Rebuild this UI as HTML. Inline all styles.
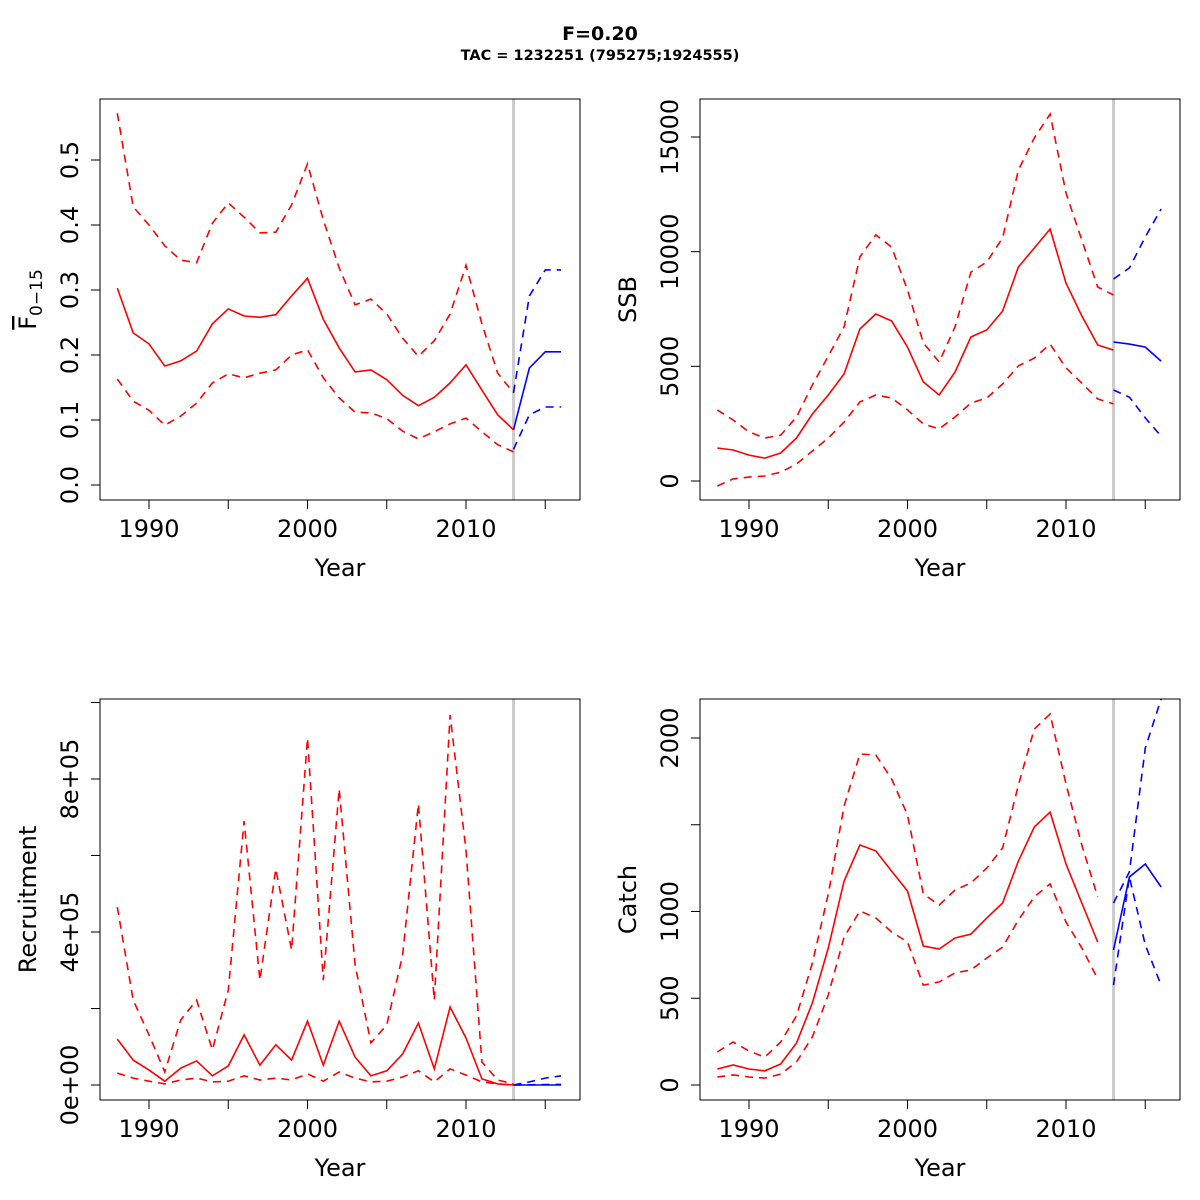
<!DOCTYPE html>
<html><head><meta charset="utf-8"><style>
html,body{margin:0;padding:0;background:#fff;}
svg{display:block;font-family:"DejaVu Sans","Liberation Sans",sans-serif;}
</style></head><body>
<svg id="chart" width="1200" height="1200" viewBox="0 0 1200 1200" xmlns="http://www.w3.org/2000/svg">
<text x="600" y="40" text-anchor="middle" font-size="19" font-weight="bold">F=0.20</text>
<text x="600" y="60" text-anchor="middle" font-size="14.5" font-weight="bold">TAC = 1232251 (795275;1924555)</text>
</svg>
<script>
const years = [1988,1989,1990,1991,1992,1993,1994,1995,1996,1997,1998,1999,2000,2001,2002,2003,2004,2005,2006,2007,2008,2009,2010,2011,2012,2013];
const projYears = [2013,2014,2015,2016];
const catchYears = years.slice(0,25);
const xTicks = [1990,1995,2000,2005,2010,2015];
const xTickLabels = ["1990","","2000","","2010",""];

const fMed = [0.303,0.234,0.217,0.183,0.191,0.206,0.248,0.271,0.26,0.258,0.262,0.291,0.318,0.255,0.211,0.174,0.177,0.162,0.138,0.122,0.135,0.157,0.185,0.146,0.108,0.085];
const fUp = [0.572,0.428,0.4,0.368,0.346,0.342,0.403,0.434,0.412,0.388,0.389,0.431,0.494,0.408,0.334,0.277,0.286,0.263,0.226,0.198,0.222,0.263,0.338,0.248,0.172,0.142];
const fLo = [0.163,0.129,0.115,0.092,0.106,0.126,0.157,0.171,0.165,0.172,0.177,0.2,0.208,0.165,0.134,0.112,0.111,0.102,0.083,0.071,0.082,0.094,0.103,0.082,0.062,0.051];
const fProjMed = [0.085,0.18,0.205,0.205];
const fProjUp = [0.142,0.291,0.331,0.331];
const fProjLo = [0.055,0.108,0.12,0.12];

const ssbMed = [1440,1350,1130,1000,1220,1875,2920,3750,4670,6630,7280,6980,5840,4320,3750,4750,6280,6590,7410,9330,10160,10990,8630,7200,5930,5710];
const ssbUp = [3100,2660,2140,1875,2000,2790,4190,5450,6720,9770,10730,10200,8330,6020,5190,6720,9110,9550,10600,13560,14960,16000,12560,10510,8460,8110];
const ssbLo = [-220,90,170,220,390,740,1310,1875,2570,3450,3750,3620,3100,2490,2270,2790,3400,3620,4230,5020,5360,5970,4930,4270,3580,3360];
const ssbProjMed = [6060,5970,5840,5230];
const ssbProjUp = [8810,9290,10640,11860];
const ssbProjLo = [3970,3660,2750,1960];

const recMed = [120e3,65e3,39e3,10e3,44e3,63e3,24e3,50e3,131e3,52e3,105e3,65e3,167e3,52e3,167e3,73e3,24e3,37e3,81e3,162e3,42e3,204e3,123e3,16e3,3e3,0];
const recUp = [465e3,222e3,131e3,34e3,170e3,222e3,92e3,248e3,690e3,274e3,565e3,353e3,907e3,274e3,774e3,314e3,110e3,157e3,340e3,735e3,222e3,967e3,614e3,60e3,13e3,3e3];
const recLo = [31e3,18e3,10e3,3e3,13e3,18e3,8e3,10e3,24e3,13e3,18e3,13e3,29e3,10e3,34e3,18e3,8e3,10e3,21e3,37e3,8e3,42e3,26e3,8e3,3e3,0];
const recProjMed = [0,0,0,0];
const recProjUp = [0,8e3,18e3,24e3];
const recProjLo = [0,500,1000,1500];

const catMed = [92,115,92,81,121,242,473,790,1176,1383,1349,1233,1118,801,784,847,870,963,1049,1291,1487,1573,1274,1049,824];
const catUp = [190,248,196,161,248,398,703,1101,1608,1908,1902,1764,1556,1101,1037,1124,1164,1251,1366,1729,2052,2138,1735,1383,1084];
const catLo = [46,58,46,40,63,133,277,519,853,1003,963,882,824,576,594,646,663,732,795,951,1084,1159,939,790,611];
const catProjMed = [778,1199,1274,1141];
const catProjUp = [1049,1228,1942,2225];
const catProjLo = [576,1199,807,576];

const fTicks = [0,0.1,0.2,0.3,0.4,0.5];
const fTickLabels = ["0.0","0.1","0.2","0.3","0.4","0.5"];
const ssbTicks = [0,5000,10000,15000];
const ssbTickLabels = ["0","5000","10000","15000"];
const recTicks = [0,2e5,4e5,6e5,8e5,1e6];
const recTickLabels = ["0e+00","","4e+05","","8e+05",""];
const catTicks = [0,500,1000,1500,2000];
const catTickLabels = ["0","500","1000","","2000"];

const NS = "http://www.w3.org/2000/svg";
const svg = document.getElementById('chart');
function el(tag, attrs, parent){
  const e = document.createElementNS(NS, tag);
  for (const k in attrs) e.setAttribute(k, attrs[k]);
  (parent||svg).appendChild(e);
  return e;
}

function panel(id, L, T, v0, p0, v1, p1, ticks, tickLabels, ylabel, series, useFbar){
  const W = 480, H = 401;
  const x0 = L + 17.3, xPerYear = 15.85;
  const sx = y => x0 + (y - 1988) * xPerYear;
  const sy = v => p0 + (v - v0) / (v1 - v0) * (p1 - p0);
  const g = el('g', {});
  
  
  const clipId = id + '-clip';
  const cp = el('clipPath', {id: clipId}, g);
  el('rect', {x: L, y: T, width: W, height: H}, cp);
  const vl = el('line', {x1: sx(2013), x2: sx(2013), y1: T, y2: T + H, stroke: '#cccccc', 'stroke-width': 3}, g);
  
  
  const lines = el('g', {'clip-path': 'url(#' + clipId + ')'}, g);
  series.forEach(s => {
    const pts = s.x.map((yr, i) => sx(yr).toFixed(1) + ',' + sy(s.y[i]).toFixed(1)).join(' ');
    const pl = el('polyline', {points: pts, fill: 'none', stroke: s.color, 'stroke-width': 1.6, 'stroke-dasharray': s.dash ? '8,6' : 'none'}, lines);
    
    
  });
  const box = el('rect', {x: L, y: T, width: W, height: H, fill: 'none', stroke: '#000', 'stroke-width': 1}, g);
  
  
  xTicks.forEach((t, i) => {
    const x = sx(t);
    el('line', {x1: x, x2: x, y1: T + H, y2: T + H + 9, stroke: '#000'}, g);
    if (xTickLabels[i]) {
      const tx = el('text', {x: x, y: T + H + 37, 'text-anchor': 'middle', 'font-size': 24}, g);
      tx.textContent = xTickLabels[i];
      
      
    }
  });
  const xl = el('text', {x: L + W / 2, y: T + H + 76, 'text-anchor': 'middle', 'font-size': 24}, g);
  xl.textContent = 'Year';
  
  
  ticks.forEach((t, i) => {
    const y = sy(t);
    el('line', {x1: L - 9, x2: L, y1: y, y2: y, stroke: '#000'}, g);
    if (tickLabels[i]) {
      const tx = el('text', {x: 0, y: 0, 'text-anchor': 'middle', 'font-size': 24, transform: 'translate(' + (L - 22) + ',' + y + ') rotate(-90)'}, g);
      tx.textContent = tickLabels[i];
      
      
    }
  });
  const yl = el('text', {x: 0, y: 0, 'text-anchor': 'middle', 'font-size': 24, transform: 'translate(' + (L - 64) + ',' + (T + H / 2) + ') rotate(-90)'}, g);
  
  
  if (useFbar) {
    const a = el('tspan', {'text-decoration': 'overline'}, yl); a.textContent = 'F';
    const b = el('tspan', {'font-size': 17, dy: 6}, yl); b.textContent = '0\u221215';
  } else yl.textContent = ylabel;
}

function mk(name, x, y, color, dash){ return {name, x, y, color, dash}; }

panel('fbar', 100, 99, 0, 485, 0.5, 160, fTicks, fTickLabels, 'F', [
  mk('fbar-median-line', years, fMed, 'red', false),
  mk('fbar-upper-line', years, fUp, 'red', true),
  mk('fbar-lower-line', years, fLo, 'red', true),
  mk('fbar-proj-median-line', projYears, fProjMed, 'blue', false),
  mk('fbar-proj-upper-line', projYears, fProjUp, 'blue', true),
  mk('fbar-proj-lower-line', projYears, fProjLo, 'blue', true)
], true);

panel('ssb', 700, 99, 0, 481, 15000, 137, ssbTicks, ssbTickLabels, 'SSB', [
  mk('ssb-median-line', years, ssbMed, 'red', false),
  mk('ssb-upper-line', years, ssbUp, 'red', true),
  mk('ssb-lower-line', years, ssbLo, 'red', true),
  mk('ssb-proj-median-line', projYears, ssbProjMed, 'blue', false),
  mk('ssb-proj-upper-line', projYears, ssbProjUp, 'blue', true),
  mk('ssb-proj-lower-line', projYears, ssbProjLo, 'blue', true)
], false);

panel('recruitment', 100, 699, 0, 1085, 8e5, 779, recTicks, recTickLabels, 'Recruitment', [
  mk('rec-median-line', years, recMed, 'red', false),
  mk('rec-upper-line', years, recUp, 'red', true),
  mk('rec-lower-line', years, recLo, 'red', true),
  mk('rec-proj-median-line', projYears, recProjMed, 'blue', false),
  mk('rec-proj-upper-line', projYears, recProjUp, 'blue', true),
  mk('rec-proj-lower-line', projYears, recProjLo, 'blue', true)
], false);

panel('catch', 700, 699, 0, 1085, 2000, 738, catTicks, catTickLabels, 'Catch', [
  mk('catch-median-line', catchYears, catMed, 'red', false),
  mk('catch-upper-line', catchYears, catUp, 'red', true),
  mk('catch-lower-line', catchYears, catLo, 'red', true),
  mk('catch-proj-median-line', projYears, catProjMed, 'blue', false),
  mk('catch-proj-upper-line', projYears, catProjUp, 'blue', true),
  mk('catch-proj-lower-line', projYears, catProjLo, 'blue', true)
], false);
</script>
</body></html>
